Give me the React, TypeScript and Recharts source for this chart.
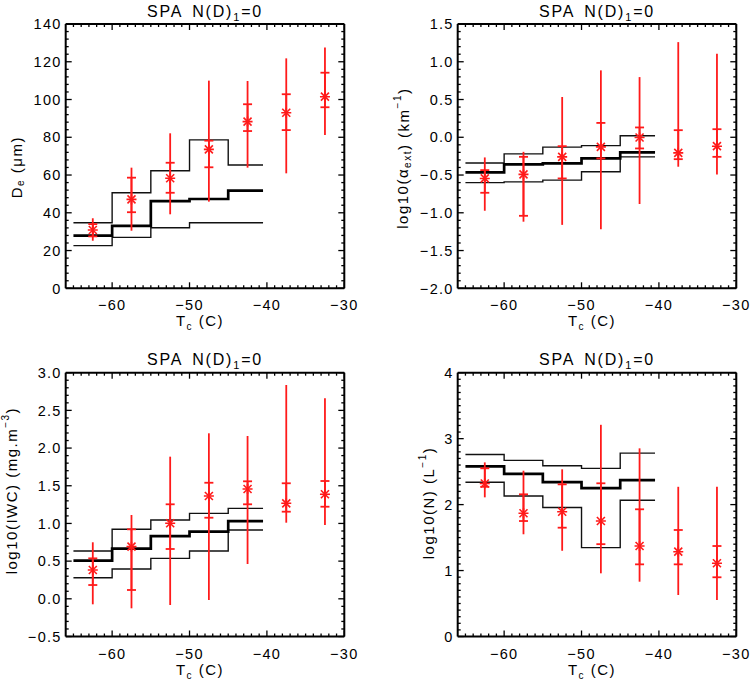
import React from 'react';
import { ComposedChart, Line, Scatter, XAxis, YAxis, ErrorBar, Label } from 'recharts';

// ---------- shared x data ----------
const binEdges = [-65, -60, -55, -50, -45, -40.5];
const pointTemps = [-62.5, -57.5, -52.5, -47.5, -42.5, -37.5, -32.5];
const xMajorTicks = [-60, -50, -40, -30];
const xDomain: [number, number] = [-66, -30];

// ---------- panel 1: De (um) ----------
const deUpper = [34.7, 50.6, 62.3, 78.6, 65.3];
const deMedian = [27.9, 33.1, 46.2, 47.3, 51.7];
const deLower = [22.6, 27.0, 32.1, 34.7, 34.7];
const deMean = [30.9, 47.1, 58.3, 73.6, 88.3, 93.0, 101.5];
const deInnerLo = [27.5, 40.3, 50.6, 64.1, 83.3, 83.8, 95.9];
const deInnerHi = [34.0, 58.6, 66.5, 78.2, 97.5, 102.8, 114.2];
const deMin = [25.2, 30.5, 39.2, 45.9, 63.9, 60.9, 81.2];
const deMax = [37.1, 63.9, 82.1, 110.0, 109.8, 121.8, 127.5];
const deYMajor = [0, 20, 40, 60, 80, 100, 120, 140];

// ---------- panel 2: log10(alpha_ext) ----------
const alUpper = [-0.34, -0.22, -0.13, -0.11, 0.02];
const alMedian = [-0.465, -0.36, -0.345, -0.28, -0.2];
const alLower = [-0.6, -0.59, -0.567, -0.457, -0.26];
const alMean = [-0.545, -0.492, -0.259, -0.127, -0.003, -0.206, -0.118];
const alInnerLo = [-0.735, -1.04, -0.545, -0.28, -0.148, -0.29, -0.259];
const alInnerHi = [-0.435, -0.259, -0.118, 0.19, 0.13, 0.094, 0.107];
const alMin = [-0.973, -1.118, -1.16, -1.218, -0.884, -0.39, -0.492];
const alMax = [-0.267, -0.193, 0.533, 0.886, 0.797, 1.26, 1.106];
const alYMajor = [-2.0, -1.5, -1.0, -0.5, 0.0, 0.5, 1.0, 1.5];

// ---------- panel 3: log10(IWC) ----------
const iwUpper = [0.634, 0.922, 1.046, 1.134, 1.2];
const iwMedian = [0.506, 0.665, 0.833, 0.891, 1.032];
const iwLower = [0.28, 0.396, 0.537, 0.634, 0.913];
const iwMean = [0.382, 0.692, 1.002, 1.364, 1.457, 1.267, 1.387];
const iwInnerLo = [0.183, 0.117, 0.661, 1.076, 1.254, 1.156, 1.222];
const iwInnerHi = [0.537, 0.922, 1.254, 1.54, 1.559, 1.533, 1.563];
const iwMin = [-0.073, -0.126, -0.082, -0.016, 0.462, 1.01, 0.979];
const iwMax = [0.75, 1.112, 1.886, 2.196, 2.16, 2.837, 2.66];
const iwYMajor = [-0.5, 0.0, 0.5, 1.0, 1.5, 2.0, 2.5, 3.0];

// ---------- panel 4: log10(N) ----------
const nUpper = [2.76, 2.67, 2.59, 2.55, 2.78];
const nMedian = [2.58, 2.465, 2.34, 2.25, 2.37];
const nLower = [2.34, 2.13, 1.955, 1.347, 2.065];
const nMean = [2.32, 1.868, 1.892, 1.751, 1.372, 1.286, 1.11];
const nInnerLo = [2.27, 1.751, 1.65, 1.4, 1.094, 1.094, 0.898];
const nInnerHi = [2.55, 2.156, 2.307, 2.323, 1.929, 1.615, 1.372];
const nMin = [2.11, 1.55, 1.3, 0.958, 0.831, 0.629, 0.553];
const nMax = [2.64, 2.514, 2.535, 3.21, 2.853, 2.27, 2.27];
const nYMajor = [0, 1, 2, 3, 4];

// ---------- helpers ----------
const FONT = '"Liberation Sans", Arial, Helvetica, sans-serif';
const RED = '#ff1a1a';

const range = (a: number, b: number, step: number) => {
  const out: number[] = [];
  const n = Math.round((b - a) / step);
  for (let i = 0; i <= n; i++) out.push(+(a + i * step).toFixed(6));
  return out;
};

const fmt = (v: number, d: number) => v.toFixed(d).replace('-', '\u2212');

const buildSteps = (upper: number[], median: number[], lower: number[]) =>
  binEdges.map((x, i) => {
    const j = Math.min(i, upper.length - 1);
    return { x, upper: upper[j], median: median[j], lower: lower[j] };
  });

const buildPoints = (mean: number[], lo: number[], hi: number[], mn: number[], mx: number[]) =>
  pointTemps.map((x, i) => ({
    x,
    mean: mean[i],
    inner: [mean[i] - lo[i], hi[i] - mean[i]],
    outer: [mean[i] - mn[i], mx[i] - mean[i]],
  }));

type Side = 'bottom' | 'top' | 'left' | 'right';

function makeTick(side: Side, majors: number[], decimals: number, showLabel: boolean) {
  return (props: any) => {
    const { x, y, payload } = props;
    const v = payload.value as number;
    const major = majors.some((m) => Math.abs(m - v) < 1e-6);
    const len = major ? 6 : 3;
    let x2 = x;
    let y2 = y;
    if (side === 'bottom') y2 = y - len;
    else if (side === 'top') y2 = y + len;
    else if (side === 'left') x2 = x + len;
    else x2 = x - len;
    let label: React.ReactNode = null;
    if (showLabel && major) {
      label =
        side === 'bottom' ? (
          <text x={x} y={y + 22} textAnchor="middle" fontFamily={FONT} fontSize={14.5} letterSpacing={1.3} fill="#000">
            {fmt(v, decimals)}
          </text>
        ) : (
          <text x={x - 4} y={y} dy="0.36em" textAnchor="end" fontFamily={FONT} fontSize={14.5} letterSpacing={1.3} fill="#000">
            {fmt(v, decimals)}
          </text>
        );
    }
    return (
      <g>
        <line x1={x} y1={y} x2={x2} y2={y2} stroke="#000" strokeWidth={1.3} />
        {label}
      </g>
    );
  };
}

const Asterisk = (props: any) => {
  const { cx, cy } = props;
  if (cx == null || cy == null) return <g />;
  const r = 5;
  const d = 4;
  return (
    <g stroke={RED} strokeWidth={1.6}>
      <line x1={cx - r} y1={cy} x2={cx + r} y2={cy} />
      <line x1={cx} y1={cy - r} x2={cx} y2={cy + r} />
      <line x1={cx - d} y1={cy - d} x2={cx + d} y2={cy + d} />
      <line x1={cx - d} y1={cy + d} x2={cx + d} y2={cy - d} />
    </g>
  );
};

type PanelCfg = {
  left: number;
  top: number;
  margin: { top: number; right: number; bottom: number; left: number };
  yDomain: [number, number];
  yMajor: number[];
  yMinorStep: number;
  yDecimals: number;
  steps: { x: number; upper: number; median: number; lower: number }[];
  points: { x: number; mean: number; inner: number[]; outer: number[] }[];
  yTitle: React.ReactNode;
  yTitleX: number;
  yTitleDy: number;
};

const TITLE = (
  <>
    SPA
    <tspan dx={9}>N(D)</tspan>
    <tspan dy={4} fontSize={11}>1</tspan>
    <tspan dy={-4}>=0</tspan>
  </>
);

const X_TITLE = (
  <>
    T<tspan dy={4} fontSize={10}>c</tspan>
    <tspan dy={-4}> (C)</tspan>
  </>
);

function Panel({ cfg }: { cfg: PanelCfg }) {
  const xTicks = range(-65, -30, 1);
  const yTicks = range(cfg.yDomain[0], cfg.yDomain[1], cfg.yMinorStep);
  return (
    <div style={{ position: 'absolute', left: cfg.left, top: cfg.top, width: 375, height: 340 }}>
      <ComposedChart width={375} height={340} data={cfg.steps} margin={cfg.margin}>
        <XAxis
          xAxisId="b"
          dataKey="x"
          type="number"
          domain={xDomain}
          allowDataOverflow
          ticks={xTicks}
          interval={0}
          height={40}
          tickLine={false}
          tickSize={0}
          tickMargin={0}
          axisLine={{ stroke: '#000', strokeWidth: 2 }}
          tick={makeTick('bottom', xMajorTicks, 0, true)}
        >
          <Label
            content={(p: any) => {
              const vb = p.viewBox;
              return (
                <text
                  x={vb.x + vb.width / 2 - 5}
                  y={vb.y + 38}
                  textAnchor="middle"
                  fontFamily={FONT}
                  fontSize={15}
                  letterSpacing={1.5}
                  fill="#000"
                >
                  {X_TITLE}
                </text>
              );
            }}
          />
        </XAxis>
        <XAxis
          xAxisId="t"
          orientation="top"
          dataKey="x"
          type="number"
          domain={xDomain}
          allowDataOverflow
          ticks={xTicks}
          interval={0}
          height={1}
          tickLine={false}
          tickSize={0}
          tickMargin={0}
          axisLine={{ stroke: '#000', strokeWidth: 2 }}
          tick={makeTick('top', xMajorTicks, 0, false)}
        >
          <Label
            content={(p: any) => {
              const vb = p.viewBox;
              return (
                <text
                  x={vb.x + vb.width / 2}
                  y={vb.y + vb.height - 7.5}
                  textAnchor="middle"
                  fontFamily={FONT}
                  fontSize={16}
                  letterSpacing={1.8}
                  fill="#000"
                >
                  {TITLE}
                </text>
              );
            }}
          />
        </XAxis>
        <YAxis
          yAxisId="l"
          type="number"
          domain={cfg.yDomain}
          allowDataOverflow
          ticks={yTicks}
          interval={0}
          width={60}
          tickLine={false}
          tickSize={0}
          tickMargin={0}
          axisLine={{ stroke: '#000', strokeWidth: 2 }}
          tick={makeTick('left', cfg.yMajor, cfg.yDecimals, true)}
        >
          <Label
            content={(p: any) => {
              const vb = p.viewBox;
              const cy = vb.y + vb.height / 2 + cfg.yTitleDy;
              return (
                <text
                  transform={`translate(${cfg.yTitleX},${cy}) rotate(-90)`}
                  textAnchor="middle"
                  dominantBaseline="central"
                  fontFamily={FONT}
                  fontSize={15}
                  letterSpacing={1.5}
                  fill="#000"
                >
                  {cfg.yTitle}
                </text>
              );
            }}
          />
        </YAxis>
        <YAxis
          yAxisId="r"
          orientation="right"
          type="number"
          domain={cfg.yDomain}
          allowDataOverflow
          ticks={yTicks}
          interval={0}
          width={1}
          tickLine={false}
          tickSize={0}
          tickMargin={0}
          axisLine={{ stroke: '#000', strokeWidth: 2 }}
          tick={makeTick('right', cfg.yMajor, cfg.yDecimals, false)}
        />
        <Line
          xAxisId="t"
          yAxisId="r"
          type="stepAfter"
          dataKey="median"
          stroke="none"
          dot={false}
          activeDot={false}
          legendType="none"
          isAnimationActive={false}
        />
        <Line
          xAxisId="b"
          yAxisId="l"
          type="stepAfter"
          dataKey="upper"
          stroke="#111"
          strokeWidth={1.4}
          dot={false}
          isAnimationActive={false}
        />
        <Line
          xAxisId="b"
          yAxisId="l"
          type="stepAfter"
          dataKey="lower"
          stroke="#111"
          strokeWidth={1.4}
          dot={false}
          isAnimationActive={false}
        />
        <Line
          xAxisId="b"
          yAxisId="l"
          type="stepAfter"
          dataKey="median"
          stroke="#000"
          strokeWidth={2.7}
          dot={false}
          isAnimationActive={false}
        />
        <Scatter
          xAxisId="b"
          yAxisId="l"
          data={cfg.points}
          dataKey="mean"
          shape={Asterisk}
          isAnimationActive={false}
        >
          <ErrorBar dataKey="outer" direction="y" width={0} stroke={RED} strokeWidth={1.8} isAnimationActive={false} />
          <ErrorBar dataKey="inner" direction="y" width={4.5} stroke={RED} strokeWidth={1.8} isAnimationActive={false} />
        </Scatter>
      </ComposedChart>
    </div>
  );
}

const panels: PanelCfg[] = [
  {
    left: 0,
    top: 0,
    margin: { top: 23, right: 29.7, bottom: 11.7, left: 5.7 },
    yDomain: [0, 140],
    yMajor: deYMajor,
    yMinorStep: 4,
    yDecimals: 0,
    steps: buildSteps(deUpper, deMedian, deLower),
    points: buildPoints(deMean, deInnerLo, deInnerHi, deMin, deMax),
    yTitle: (
      <>
        D<tspan dy={4} fontSize={10}>e</tspan>
        <tspan dy={-4}> (μm)</tspan>
      </>
    ),
    yTitleX: 16,
    yTitleDy: 11,
  },
  {
    left: 375,
    top: 0,
    margin: { top: 23, right: 12.7, bottom: 11.7, left: 22.7 },
    yDomain: [-2, 1.5],
    yMajor: alYMajor,
    yMinorStep: 0.1,
    yDecimals: 1,
    steps: buildSteps(alUpper, alMedian, alLower),
    points: buildPoints(alMean, alInnerLo, alInnerHi, alMin, alMax),
    yTitle: (
      <>
        log10(α<tspan dy={4} fontSize={10}>ext</tspan>
        <tspan dy={-4}>)  (km</tspan>
        <tspan dy={-6} fontSize={10}>−1</tspan>
        <tspan dy={6}>)</tspan>
      </>
    ),
    yTitleX: 27.5,
    yTitleDy: 2,
  },
  {
    left: 0,
    top: 340,
    margin: { top: 31.7, right: 29.7, bottom: 3.5, left: 5.7 },
    yDomain: [-0.5, 3],
    yMajor: iwYMajor,
    yMinorStep: 0.1,
    yDecimals: 1,
    steps: buildSteps(iwUpper, iwMedian, iwLower),
    points: buildPoints(iwMean, iwInnerLo, iwInnerHi, iwMin, iwMax),
    yTitle: (
      <>
        log10(IWC)  (mg.m<tspan dy={-6} fontSize={10}>−3</tspan>
        <tspan dy={6}>)</tspan>
      </>
    ),
    yTitleX: 11,
    yTitleDy: -14,
  },
  {
    left: 375,
    top: 340,
    margin: { top: 31.7, right: 12.7, bottom: 3.5, left: 22.7 },
    yDomain: [0, 4],
    yMajor: nYMajor,
    yMinorStep: 0.1,
    yDecimals: 0,
    steps: buildSteps(nUpper, nMedian, nLower),
    points: buildPoints(nMean, nInnerLo, nInnerHi, nMin, nMax),
    yTitle: (
      <>
        log10(N)  (L<tspan dy={-6} fontSize={10}>−1</tspan>
        <tspan dy={6}>)</tspan>
      </>
    ),
    yTitleX: 53,
    yTitleDy: -1.6,
  },
];

export default function App() {
  return (
    <div style={{ position: 'absolute', left: 0, top: 0, width: 750, height: 680, background: '#fff' }}>
      {panels.map((cfg, i) => (
        <Panel key={i} cfg={cfg} />
      ))}
    </div>
  );
}
